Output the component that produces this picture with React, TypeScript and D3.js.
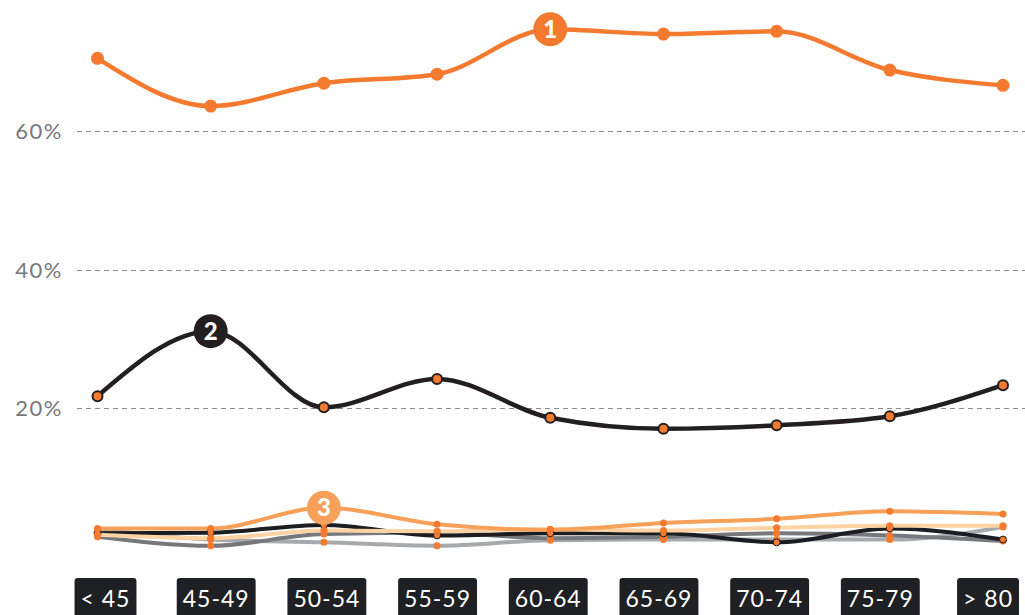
import React, { useEffect, useRef } from "react";
import * as d3 from "d3";

const categories = ["< 45", "45-49", "50-54", "55-59", "60-64", "65-69", "70-74", "75-79", "> 80"];
const yTicks = [20, 40, 60];

const series1 = [70.5, 63.6, 66.9, 68.2, 74.7, 74.0, 74.4, 68.8, 66.6];
const series2 = [21.7, 31.1, 20.1, 24.2, 18.6, 17.0, 17.5, 18.8, 23.3];
const series3 = [2.6, 2.6, 5.6, 3.2, 2.4, 3.4, 4.0, 5.1, 4.7];
const series4 = [1.7, 1.2, 2.3, 2.2, 2.5, 2.3, 2.7, 3.0, 3.0];
const series5 = [1.9, 2.0, 3.1, 1.6, 1.9, 1.9, 0.6, 2.6, 1.0];
const series6 = [1.4, 0.1, 1.8, 2.0, 1.2, 1.4, 1.9, 1.6, 0.8];
const series7 = [2.5, 1.0, 0.6, 0.1, 0.9, 1.0, 1.0, 1.0, 2.8];

const W = 1025;
const H = 615;

export default function App() {
  const ref = useRef<SVGSVGElement>(null);

  useEffect(() => {
    const svg = d3.select(ref.current);
    svg.selectAll("*").remove();
    const font = "Lato, 'Noto Sans', sans-serif";

    const x = d3.scalePoint<string>().domain(categories).range([97.5, 1003]);
    const xl = d3.scalePoint<string>().domain(categories).range([105.5, 991]);
    const y = d3.scaleLinear().domain([0, 60]).range([546.5, 131]);

    // grid
    const g = svg.append("g");
    yTicks.forEach((t) => {
      g.append("line")
        .attr("x1", 77)
        .attr("x2", W)
        .attr("y1", Math.round(y(t)) + 0.5)
        .attr("y2", Math.round(y(t)) + 0.5)
        .attr("stroke", "#8a8b8d")
        .attr("stroke-width", 1)
        .attr("stroke-dasharray", "5,4");
      g.append("text")
        .attr("x", 63)
        .attr("y", y(t) + 8)
        .attr("text-anchor", "end")
        .attr("fill", "#77787b")
        .attr("font-family", font)
        .attr("font-size", 22)
        .attr("letter-spacing", 1.5)
        .text(`${t}%`);
    });

    const line = d3
      .line<number>()
      .x((_, i) => x(categories[i])!)
      .y((d) => y(d))
      .curve(d3.curveMonotoneX);

    const small = [
      { data: series7, color: "#a7a9ac", stroke: null },
      { data: series6, color: "#77787b", stroke: null },
      { data: series5, color: "#1c1d20", stroke: "#1c1d20" },
      { data: series4, color: "#fdd3a3", stroke: null },
      { data: series3, color: "#f7a05a", stroke: null },
    ];
    small.forEach((s) => {
      svg.append("path")
        .attr("d", line(s.data)!)
        .attr("fill", "none")
        .attr("stroke", s.color)
        .attr("stroke-width", 4)
        .attr("stroke-linecap", "round");
    });
    small.forEach((s) => {
      s.data.forEach((v, i) => {
        svg.append("circle")
          .attr("cx", x(categories[i])!)
          .attr("cy", y(v))
          .attr("r", 3.5)
          .attr("fill", "#f47a30")
          .attr("stroke", s.stroke ?? "none")
          .attr("stroke-width", s.stroke ? 1 : 0);
      });
    });

    // series 2
    svg.append("path")
      .attr("d", line(series2)!)
      .attr("fill", "none")
      .attr("stroke", "#231f20")
      .attr("stroke-width", 4.5);
    series2.forEach((v, i) => {
      svg.append("circle")
        .attr("cx", x(categories[i])!)
        .attr("cy", y(v))
        .attr("r", 5)
        .attr("fill", "#f47a30")
        .attr("stroke", "#231f20")
        .attr("stroke-width", 2);
    });

    // series 1
    svg.append("path")
      .attr("d", line(series1)!)
      .attr("fill", "none")
      .attr("stroke", "#f47a30")
      .attr("stroke-width", 4.5);
    series1.forEach((v, i) => {
      svg.append("circle")
        .attr("cx", x(categories[i])!)
        .attr("cy", y(v))
        .attr("r", 6.5)
        .attr("fill", "#f47a30");
    });

    // badges
    const badges = [
      { n: "1", data: series1, idx: 4, color: "#f47a30" },
      { n: "2", data: series2, idx: 1, color: "#231f20" },
      { n: "3", data: series3, idx: 2, color: "#f7a05a" },
    ];
    badges.forEach((b) => {
      const cx = x(categories[b.idx])!;
      const cy = y(b.data[b.idx]);
      svg.append("circle").attr("cx", cx).attr("cy", cy).attr("r", 17).attr("fill", b.color);
      svg.append("text")
        .attr("x", cx)
        .attr("y", cy + 8.5)
        .attr("text-anchor", "middle")
        .attr("fill", "#ffffff")
        .attr("font-family", font)
        .attr("font-weight", 900)
        .attr("font-size", 24)
        .text(b.n);
    });

    // x labels
    categories.forEach((c) => {
      const lg = svg.append("g");
      const t = lg.append("text")
        .attr("x", 0)
        .attr("y", 607)
        .attr("text-anchor", "middle")
        .attr("fill", "#ffffff")
        .attr("font-family", font)
        .attr("font-size", 23)
        .attr("letter-spacing", 1)
        .text(c);
      const bb = (t.node() as SVGTextElement).getBBox();
      const w = bb.width + 12;
      let cx = xl(c)!;
      if (cx + w / 2 > 1019) cx = 1019 - w / 2;
      lg.insert("rect", "text")
        .attr("x", -w / 2)
        .attr("y", 578)
        .attr("width", w)
        .attr("height", 40)
        .attr("rx", 3)
        .attr("fill", "#1f2023");
      lg.attr("transform", `translate(${cx},0)`);
    });
  }, []);

  return (
    <div style={{ position: "fixed", left: 0, top: 0, width: W, height: H, background: "#fff" }}>
      <svg ref={ref} width={W} height={H} style={{ display: "block" }} />
    </div>
  );
}
